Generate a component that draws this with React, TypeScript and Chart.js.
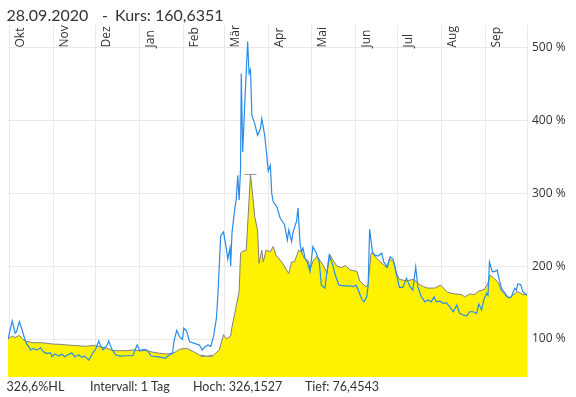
import React, { useEffect, useRef } from "react";
import { Chart, registerables } from "chart.js";

Chart.register(...registerables);

// Days counted from 1 Oct 2019
const monthTickDays = [0, 31, 61, 92, 123, 152, 183, 213, 244, 274, 305, 336];
const monthLabels = ["Okt", "Nov", "Dez", "Jan", "Feb", "Mär", "Apr", "Mai", "Jun", "Jul", "Aug", "Sep"];
const yTickValues = [100, 200, 300, 400, 500];

const titleDate = "28.09.2020";
const titleDash = "-";
const titleKurs = "Kurs: 160,6351";
const footerItems = ["326,6%HL", "Intervall: 1 Tag", "Hoch: 326,1527", "Tief: 76,4543"];

// Yellow area series (Kurs, % of start)
const refDays = [
  -1, 2, 4, 7, 9, 11, 14, 17, 22, 27, 31, 36, 41, 45, 50, 55, 59, 64, 69, 73,
  78, 83, 87, 92, 97, 101, 106, 111, 116, 120, 125, 130, 134, 139, 144, 148, 151, 153, 156, 157,
  159, 162, 163, 164, 167, 170, 172, 173, 175, 176, 178, 179, 181, 184, 186, 188, 192, 196, 197, 199,
  201, 204, 206, 208, 211, 212, 214, 217, 219, 221, 224, 226, 228, 231, 234, 237, 240, 245, 247, 250,
  252, 253, 255, 256, 259, 261, 264, 266, 268, 271, 273, 275, 280, 285, 287, 289, 292, 295, 300, 304,
  306, 309, 314, 319, 321, 325, 328, 331, 333, 335, 338, 339, 342, 345, 347, 351, 353, 355, 358, 360,
  362, 365,
];
const refValues = [
  100, 104, 102, 105, 101, 97, 96, 95, 95, 94, 93, 92.7, 91.8, 91.3, 90.4, 90, 91.3, 89.4, 87.2, 84,
  84, 84, 85, 84, 84, 82, 80.3, 79.4, 81, 85.8, 87.2, 82.5, 78, 76.45, 78, 85, 106, 100, 104, 117,
  136, 165, 218, 220, 222, 326.15, 289, 268, 250, 204, 222, 206, 222, 220, 227, 215, 206, 193, 190, 206,
  206, 222, 220, 211, 207, 195, 207, 214, 208, 202, 191, 216, 209, 200, 198, 201, 195, 193, 180, 174,
  172, 176, 218, 218, 211, 207, 202, 198, 210, 206, 190, 182, 180, 182, 179, 175, 172, 170, 170, 174,
  170, 164, 162, 161, 158, 162, 161, 166, 167, 168, 179, 188, 183, 177, 166, 158, 156, 160.5, 165, 163.6,
  161.4, 160.6,
];

// Blue comparison line
const cmpDays = [
  -1, 2, 4, 5, 7, 9, 11, 12, 15, 17, 19, 22, 24, 26, 29, 30, 32, 35, 37, 39,
  42, 44, 46, 49, 51, 53, 56, 58, 61, 63, 64, 66, 69, 70, 72, 75, 78, 82, 85, 87,
  90, 92, 95, 97, 100, 104, 107, 110, 112, 115, 116, 118, 120, 122, 123, 125, 127, 129, 132, 134,
  136, 138, 140, 142, 144, 146, 147, 149, 151, 153, 154, 155.5, 156, 157, 159, 160, 161, 162, 163, 163.5,
  164.5, 166, 168, 169, 170, 171, 173, 175, 177, 178, 180, 181.5, 182.5, 184, 185, 186, 188.5, 191, 194, 196,
  197, 199, 200, 202.5, 203.5, 205, 206, 207, 208.5, 210, 212, 214, 216, 218.5, 220, 222.5, 225.5, 228, 229.5, 231,
  232.5, 236.5, 240, 242.5, 244.5, 246, 248.5, 250, 252, 253, 254, 256, 257.5, 260, 262.5, 264, 266.5, 268.5, 270.5, 273,
  275, 277.5, 280, 282.5, 284.5, 286.5, 288, 290.5, 293, 295.5, 297.5, 299.5, 301, 303.5, 306, 308, 310.5, 313, 315.5, 317.5,
  320, 322.5, 324.5, 327, 329.5, 331, 333, 334.5, 336.5, 337.5, 338.5, 340.5, 342.5, 344, 345.5, 347, 349.5, 351.5, 354, 355,
  356.5, 357.5, 358.5, 360.5, 362, 365,
];
const cmpValues = [
  100, 125, 108, 110, 124, 112, 98.6, 94, 85, 87, 85, 88, 82.5, 80.3, 81, 75.7, 79.4, 76.6, 79.4, 75.7,
  79, 81, 75.7, 78, 74.8, 76.6, 71, 78, 87, 97.3, 91.8, 85, 91.8, 97.3, 87, 78, 76.6, 77, 77, 77,
  91.8, 84, 85.8, 85, 76.6, 75.7, 74.8, 73.5, 77, 80.3, 96.3, 112, 103, 99.6, 115, 111, 96.3, 95, 93, 91.8,
  85, 89.4, 91.8, 90, 104, 129, 160, 242, 247, 224, 210, 225, 200, 247, 280, 293, 325, 291, 335, 465,
  357, 425, 509, 465, 470, 407, 396, 380, 389, 403, 380, 352, 331, 339, 300, 289, 282, 266, 257, 236,
  250, 234, 247, 262, 280, 230, 220, 225, 211, 206, 192.5, 227, 220, 206, 174, 170, 215.5, 202, 190, 181,
  174, 173, 173, 172, 174, 167.4, 154.6, 151.3, 158, 174, 251, 220, 215.5, 214, 218, 206, 199, 213, 210, 188,
  171, 171, 183.4, 172, 167.4, 199, 172, 158, 151.3, 153.6, 151, 158, 151, 152, 149, 150, 144.4, 137.5, 146.7, 135.3,
  133, 131.6, 137.5, 137.5, 135.3, 148, 140, 153.6, 162.8, 160, 206, 192.5, 193, 195, 181, 169.7, 162.8, 157.3, 158, 163.6,
  169.7, 167, 175.6, 175, 165, 160.5,
];

const GRID = "#e9e9e9";
const TEXT = "#333333";

const overlayPlugin = {
  id: "overlay",
  afterDatasetsDraw(chart: any) {
    const { ctx, scales } = chart;
    const xs = scales.x;
    const ys = scales.y;
    let hi = 0;
    let lo = 0;
    refValues.forEach((v, i) => {
      if (v > refValues[hi]) hi = i;
      if (v < refValues[lo]) lo = i;
    });
    ctx.save();
    ctx.strokeStyle = "#9a9a9a";
    ctx.lineWidth = 1;
    [hi, lo].forEach((i) => {
      const px = xs.getPixelForValue(refDays[i]);
      const py = Math.round(ys.getPixelForValue(refValues[i])) + 0.5;
      ctx.beginPath();
      ctx.moveTo(px - 6, py);
      ctx.lineTo(px + 6, py);
      ctx.stroke();
    });
    ctx.restore();
  },
  afterDraw(chart: any) {
    const { ctx, scales, chartArea } = chart;
    const xs = scales.x;
    ctx.save();
    ctx.fillStyle = TEXT;
    // month labels inside the plot, rotated
    ctx.font = '12px "Open Sans"';
    monthLabels.forEach((lab, i) => {
      const px = xs.getPixelForValue(monthTickDays[i]);
      ctx.save();
      ctx.translate(px + 14.5, chartArea.top + 22.5);
      ctx.rotate(-Math.PI / 2);
      ctx.textAlign = "left";
      ctx.textBaseline = "alphabetic";
      ctx.fillText(lab, 0, 0);
      ctx.restore();
    });
    // title
    ctx.font = '16px Lato';
    ctx.textAlign = "left";
    ctx.textBaseline = "alphabetic";
    ctx.fillText(titleDate, 6.5, 20.5);
    ctx.fillText(titleDash, 102, 20.5);
    ctx.fillText(titleKurs, 115, 20.5);
    // footer
    ctx.font = '12.5px Lato';
    const fx = [6.5, 90, 193, 305];
    footerItems.forEach((t, i) => ctx.fillText(t, fx[i], 390.5));
    ctx.restore();
  },
};

export default function App() {
  const ref = useRef<HTMLCanvasElement | null>(null);
  useEffect(() => {
    if (!ref.current) return;
    const chart = new Chart(ref.current, {
      type: "line",
      data: {
        datasets: [
          {
            label: "Vergleich",
            data: cmpDays.map((d, i) => ({ x: d, y: cmpValues[i] })),
            borderColor: "#2a8ce8",
            borderWidth: 1.2,
            pointRadius: 0,
            fill: false,
            tension: 0,
          },
          {
            label: "Kurs",
            data: refDays.map((d, i) => ({ x: d, y: refValues[i] })),
            borderColor: "#7f7f7f",
            backgroundColor: "#fff200",
            borderWidth: 1,
            pointRadius: 0,
            fill: "start",
            tension: 0,
          },
        ],
      },
      options: {
        responsive: false,
        animation: false,
        devicePixelRatio: 1,
        layout: { padding: { left: 8, top: 25, bottom: 20, right: 0 } },
        plugins: { legend: { display: false }, tooltip: { enabled: false }, title: { display: false } },
        scales: {
          x: {
            type: "linear",
            min: -1,
            max: 365,
            afterBuildTicks: (s: any) => {
              s.ticks = monthTickDays.map((v) => ({ value: v }));
            },
            afterFit: (s: any) => {
              s.height = 0;
            },
            ticks: { display: false },
            grid: { color: GRID, drawTicks: false },
            border: { display: false },
          },
          y: {
            position: "right",
            min: 47.8,
            max: 531.6,
            afterBuildTicks: (s: any) => {
              s.ticks = yTickValues.map((v) => ({ value: v }));
            },
            afterFit: (s: any) => {
              s.width = 49;
            },
            grid: { color: GRID, drawTicks: false },
            border: { display: true, color: GRID },
            ticks: {
              padding: 5,
              color: TEXT,
              font: { family: "Open Sans", size: 12 },
              callback: (v: any) => `${v} %`,
            },
          },
        },
      },
      plugins: [overlayPlugin],
    });
    return () => chart.destroy();
  }, []);
  return (
    <div style={{ position: "absolute", left: 0, top: 0, width: 576, height: 397 }}>
      <canvas ref={ref} width={576} height={397} />
    </div>
  );
}
